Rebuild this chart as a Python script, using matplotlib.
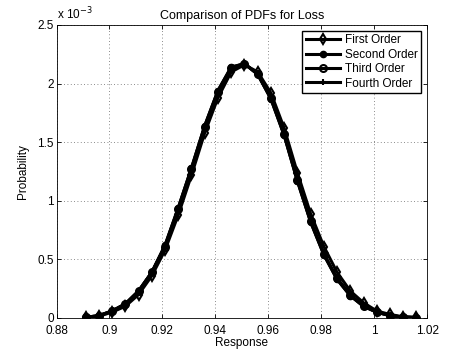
import matplotlib
matplotlib.use('Agg')
import matplotlib.pyplot as plt

plt.rcParams['font.family'] = ['Liberation Sans', 'DejaVu Sans']

# response bins
response = [0.891, 0.896, 0.901, 0.906, 0.911, 0.916, 0.921, 0.926, 0.931,
            0.936, 0.941, 0.946, 0.951, 0.956, 0.961, 0.966, 0.971, 0.976,
            0.981, 0.986, 0.991, 0.996, 1.001, 1.006, 1.011, 1.016]

# probabilities, in units of 1e-3
first_order = [0.005, 0.015, 0.05, 0.10, 0.20, 0.36, 0.58, 0.88, 1.22, 1.58,
               1.88, 2.10, 2.16, 2.10, 1.92, 1.62, 1.24, 0.89, 0.61, 0.39,
               0.23, 0.13, 0.06, 0.03, 0.01, 0.006]
second_order = [0.006, 0.02, 0.06, 0.12, 0.23, 0.39, 0.62, 0.94, 1.28, 1.64,
                1.94, 2.14, 2.17, 2.08, 1.87, 1.56, 1.17, 0.82, 0.54, 0.33,
                0.19, 0.10, 0.05, 0.02, 0.008, 0.003]
third_order = [0.006, 0.02, 0.06, 0.12, 0.23, 0.39, 0.61, 0.93, 1.27, 1.63,
               1.93, 2.13, 2.17, 2.08, 1.88, 1.57, 1.18, 0.83, 0.55, 0.34,
               0.20, 0.10, 0.05, 0.02, 0.008, 0.003]
fourth_order = [0.006, 0.02, 0.06, 0.12, 0.23, 0.39, 0.62, 0.94, 1.28, 1.64,
                1.94, 2.14, 2.17, 2.08, 1.87, 1.56, 1.17, 0.82, 0.54, 0.33,
                0.19, 0.10, 0.05, 0.02, 0.008, 0.003]

xticks = [0.88, 0.9, 0.92, 0.94, 0.96, 0.98, 1.0, 1.02]
xticklabels = ['0.88', '0.9', '0.92', '0.94', '0.96', '0.98', '1', '1.02']
yticks = [0, 0.5, 1, 1.5, 2, 2.5]
yticklabels = ['0', '0.5', '1', '1.5', '2', '2.5']

fig = plt.figure(figsize=(4.5, 3.52), dpi=100)
ax = fig.add_axes([0.1256, 0.0966, 0.8234, 0.8324])

ax.plot(response, first_order, 'k-', lw=2.2, marker='d', ms=5.5, mfc='none', mew=1.5, label='First Order')
ax.plot(response, second_order, 'k-', lw=2.2, marker='.', ms=9, label='Second Order')
ax.plot(response, third_order, 'k-', lw=2.2, marker='o', ms=5, mfc='none', mew=1.5, label='Third Order')
ax.plot(response, fourth_order, 'k-', lw=2.2, marker='+', ms=5, mew=1.5, label='Fourth Order')

ax.set_xlim(0.88, 1.02)
ax.set_ylim(0, 2.5)
ax.set_xticks(xticks)
ax.set_xticklabels(xticklabels)
ax.set_yticks(yticks)
ax.set_yticklabels(yticklabels)
ax.tick_params(direction='in', labelsize=8.5, length=3, width=0.6, top=True, right=True, pad=2)
ax.tick_params(axis='x', pad=5)
ax.grid(True, linestyle=(0, (1, 3)), color='0.4', linewidth=0.6)
for sp in ax.spines.values():
    sp.set_linewidth(0.6)

ax.set_title('Comparison of PDFs for Loss', fontsize=9, pad=4)
ax.set_xlabel('Response', fontsize=8.5, labelpad=0)
ax.set_ylabel('Probability', fontsize=8.5, labelpad=6)
ax.text(0.0, 1.01, 'x 10$^{-3}$', transform=ax.transAxes, fontsize=8.5, va='bottom', ha='left')

leg = ax.legend(loc='upper right', fontsize=8.5, frameon=True, fancybox=False,
                handlelength=2.9, borderpad=0.3, labelspacing=0.2, handletextpad=0.4,
                borderaxespad=0.5)
leg.get_frame().set_edgecolor('k')
leg.get_frame().set_linewidth(1.0)
leg.get_frame().set_alpha(1)

fig.savefig('out.png', dpi=100)
